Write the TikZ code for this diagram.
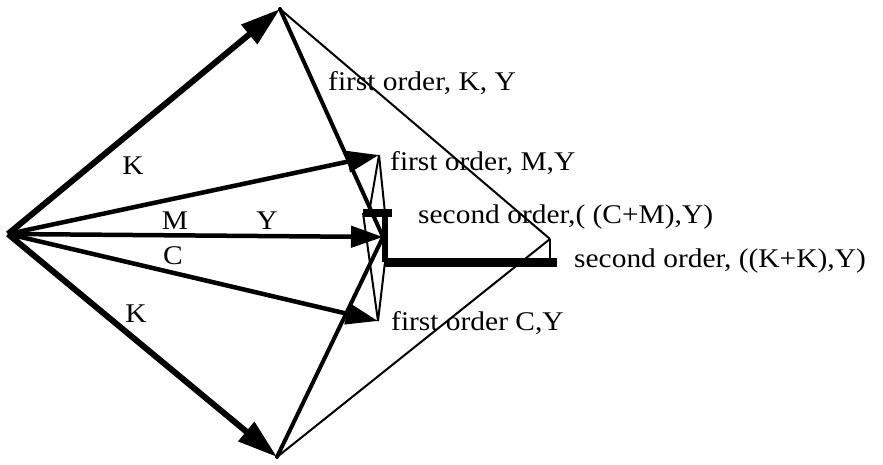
\documentclass[tikz,border=0pt]{standalone}
\usepackage{fontspec}
\setmainfont{Liberation Serif}[FakeStretch=1.09]
\usetikzlibrary{arrows.meta}
\definecolor{vectorline}{HTML}{000000}
\definecolor{vectortext}{HTML}{000000}
\tikzset{
  vector big/.style={
    draw=vectorline, line width=6pt,
    -{Triangle[length=40pt,width=24pt]}
  },
  vector small/.style={
    draw=vectorline, line width=4.5pt,
    -{Triangle[length=32pt,width=21pt]}
  },
  vector edge/.style={draw=vectorline, line width=4pt, line cap=round},
  vector thin/.style={draw=vectorline, line width=2pt},
  vector bar/.style={draw=vectorline, line width=9pt},
  vector name/.style={
    text=vectortext, font=\fontsize{27}{31}\selectfont, inner sep=0pt
  },
  order label/.style={vector name, anchor=base west}
}

\begin{document}
\begin{tikzpicture}[x=1pt,y=-1pt]
  \useasboundingbox (0,0) rectangle (883,465);

  \coordinate (origin) at (8,234);
  \coordinate (ktop) at (280,9);
  \coordinate (kbot) at (277,457);
  \coordinate (mtip) at (379,155);
  \coordinate (ytip) at (383,237);
  \coordinate (ctip) at (378,321);
  \coordinate (barleft) at (363,213);
  \coordinate (barright) at (392,213);
  \coordinate (barmid) at (385,213);
  \coordinate (barinner) at (369,213);
  \coordinate (kkstart) at (385,262);
  \coordinate (kkend) at (557,262);
  \coordinate (kkapex) at (550,239);
  \coordinate (kkfoot) at (550,262);

  % Plain component vectors out of the common origin.
  \draw[vector big] (origin) -- (ktop);
  \draw[vector big] (origin) -- (kbot);
  \draw[vector small] (origin) -- (mtip);
  \draw[vector small] (origin) -- (ytip);
  \draw[vector small] (origin) -- (ctip);

  % First order combinations with Y.
  \draw[vector edge] (ktop) -- (ytip);
  \draw[vector edge] (kbot) -- (ytip);
  \draw[vector thin] (ktop) -- (kkapex);
  \draw[vector thin] (kbot) -- (kkapex);
  \draw[vector thin] (kkapex) -- (kkfoot);

  % Second order points.
  \draw[vector thin] (mtip) -- (barinner);
  \draw[vector thin] (mtip) -- (barmid);
  \draw[vector thin] (ctip) -- (barleft);
  \draw[vector thin] (ctip) -- (kkstart);
  \draw[vector bar,line width=8pt] (barleft) -- (barright);
  \draw[draw=vectorline,line width=5.5pt] (barmid) -- (kkstart);
  \draw[vector bar] (kkstart) -- (kkend);

  \node[vector name] (klabelup) at (133,166) {K};
  \node[vector name] (mlabel) at (175,221) {M};
  \node[vector name] (ylabel) at (267,221) {Y};
  \node[vector name] (clabel) at (173,256) {C};
  \node[vector name] (klabeldown) at (136,314) {K};

  \node[order label] (kyorder) at (328,91) {first order, K, Y};
  \node[order label] (myorder) at (390,171) {first order, M,Y};
  \node[order label] (cmorder) at (418,223) {second order,( (C+M),Y)};
  \node[order label] (kkorder) at (574,267) {second order, ((K+K),Y)};
  \node[order label] (cyorder) at (391,330) {first order C,Y};
\end{tikzpicture}
\end{document}
